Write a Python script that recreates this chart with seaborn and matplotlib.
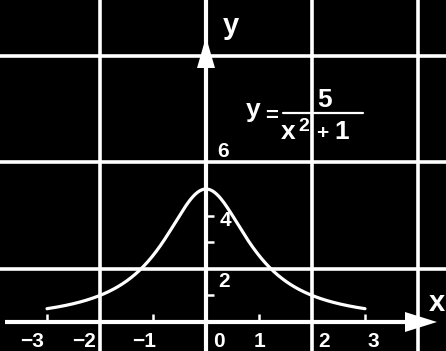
import numpy as np
import pandas as pd
import matplotlib
matplotlib.use("Agg")
import matplotlib.pyplot as plt
import seaborn as sns

# y = 5 / (x^2 + 1), drawn over -3 <= x <= 3
numerator = 5
x_domain = (-3, 3)

x_tick_values = [-3, -2, -1, 0, 1, 2, 3]
x_tick_labels = ["\u22123", "\u22122", "\u22121", "0", "1", "2", "3"]
y_tick_values = [2, 4, 6]
y_tick_labels = ["2", "4", "6"]

grid_x = [-2, 0, 2, 4]
grid_y = [2, 6, 10]
minor_x = [-3, -1, 1, 3]
minor_y = [1, 3, 4]

xs = np.linspace(x_domain[0], x_domain[1], 301)
curve = pd.DataFrame({"x": xs, "y": numerator / (xs ** 2 + 1)})

sns.set_theme(style="dark")
plt.rcParams["font.family"] = ["Liberation Sans", "DejaVu Sans"]

W, H = 446, 351
fig = plt.figure(figsize=(W / 100, H / 100), dpi=100, facecolor="black")
ax = fig.add_axes([0, 0, 1, 1])
ax.set_facecolor("black")

# pixel layout: origin at (206, 322), 53 px per x unit, 26.6 px per y unit
OX, OY, SX, SY = 206, 322, 53.0, 26.6
ax.set_xlim(-OX / SX, (W - OX) / SX)
ax.set_ylim(-(H - OY) / SY, OY / SY)


def at(xp, yp):
    return (xp - OX) / SX, (OY - yp) / SY


# grid
ax.set_xticks(grid_x)
ax.set_yticks(grid_y)
ax.set_xticks(minor_x, minor=True)
ax.set_yticks(minor_y, minor=True)
ax.grid(True, which="major", color="white", linewidth=2.6)
ax.grid(False, which="minor")
for s in ax.spines.values():
    s.set_visible(False)
ax.spines["bottom"].set_position(("data", 0))
ax.spines["left"].set_position(("data", 0))
ax.tick_params(which="major", length=0, labelbottom=False, labelleft=False)
ax.tick_params(which="minor", bottom=True, left=True, top=False, right=False,
               direction="in", length=6, width=1.8, color="white",
               labelbottom=False, labelleft=False)

# axes with arrowheads
ax.axvline(0, color="white", linewidth=3.0, zorder=3)
x0, _ = at(5, 0)
xb, _ = at(405, 0)
ax.plot([x0, xb + 0.05], [0, 0], color="white", linewidth=3.0,
        solid_capstyle="butt", zorder=3)
xt, _ = at(437, 0)
hh = 10 / SY
ax.fill([xb, xt, xb], [-hh, 0, hh], color="white", lw=0, zorder=4)
_, yt = at(0, 37)
_, yb = at(0, 68)
hw = 9 / SX
ax.fill([-hw, 0, hw], [yb, yt, yb], color="white", lw=0, zorder=4)

# curve
sns.lineplot(data=curve, x="x", y="y", color="white", linewidth=2.3,
             ax=ax, zorder=5, legend=False)
ax.set_xlabel("")
ax.set_ylabel("")

# tick labels
tick_font = dict(color="white", fontsize=15, fontweight="bold", va="baseline")
x_offsets = [(-3, "right"), (-4, "right"), (3, "right"), (7, "left"),
             (0, "center"), (6, "left"), (8, "center")]
for v, lab, (dx, ha) in zip(x_tick_values, x_tick_labels, x_offsets):
    ax.annotate(lab, xy=(v, 0), xytext=(dx, -25), textcoords="offset pixels",
                ha=ha, **tick_font)
y_offsets = [(12, -18), (14, -10), (11, 5)]
for v, lab, (dx, dy) in zip(y_tick_values, y_tick_labels, y_offsets):
    ax.annotate(lab, xy=(0, v), xytext=(dx, dy), textcoords="offset pixels",
                ha="left", **tick_font)

# axis names
ax.text(*at(223, 34), "y", color="white", fontsize=21, fontweight="bold",
        ha="left", va="baseline")
ax.text(*at(429, 311), "x", color="white", fontsize=21, fontweight="bold",
        ha="left", va="baseline")

# equation label
eq = dict(color="white", fontweight="bold", va="baseline", ha="left")
ax.text(*at(246, 117), "y", fontsize=19, **eq)
ax.text(*at(265, 122), "=", fontsize=16, **eq)
ax.text(*at(317, 107), "5", fontsize=19, **eq)
bx0, by = at(283, 113)
bx1, _ = at(363, 113)
ax.plot([bx0, bx1], [by, by], color="white", linewidth=1.6, zorder=5)
ax.text(*at(281, 139), "x", fontsize=19, **eq)
ax.text(*at(298, 131), "2", fontsize=14, **eq)
ax.text(*at(316, 139), "+", fontsize=15, **eq)
ax.text(*at(334, 139), "1", fontsize=19, **eq)

fig.savefig("out.png", dpi=100, facecolor="black")
